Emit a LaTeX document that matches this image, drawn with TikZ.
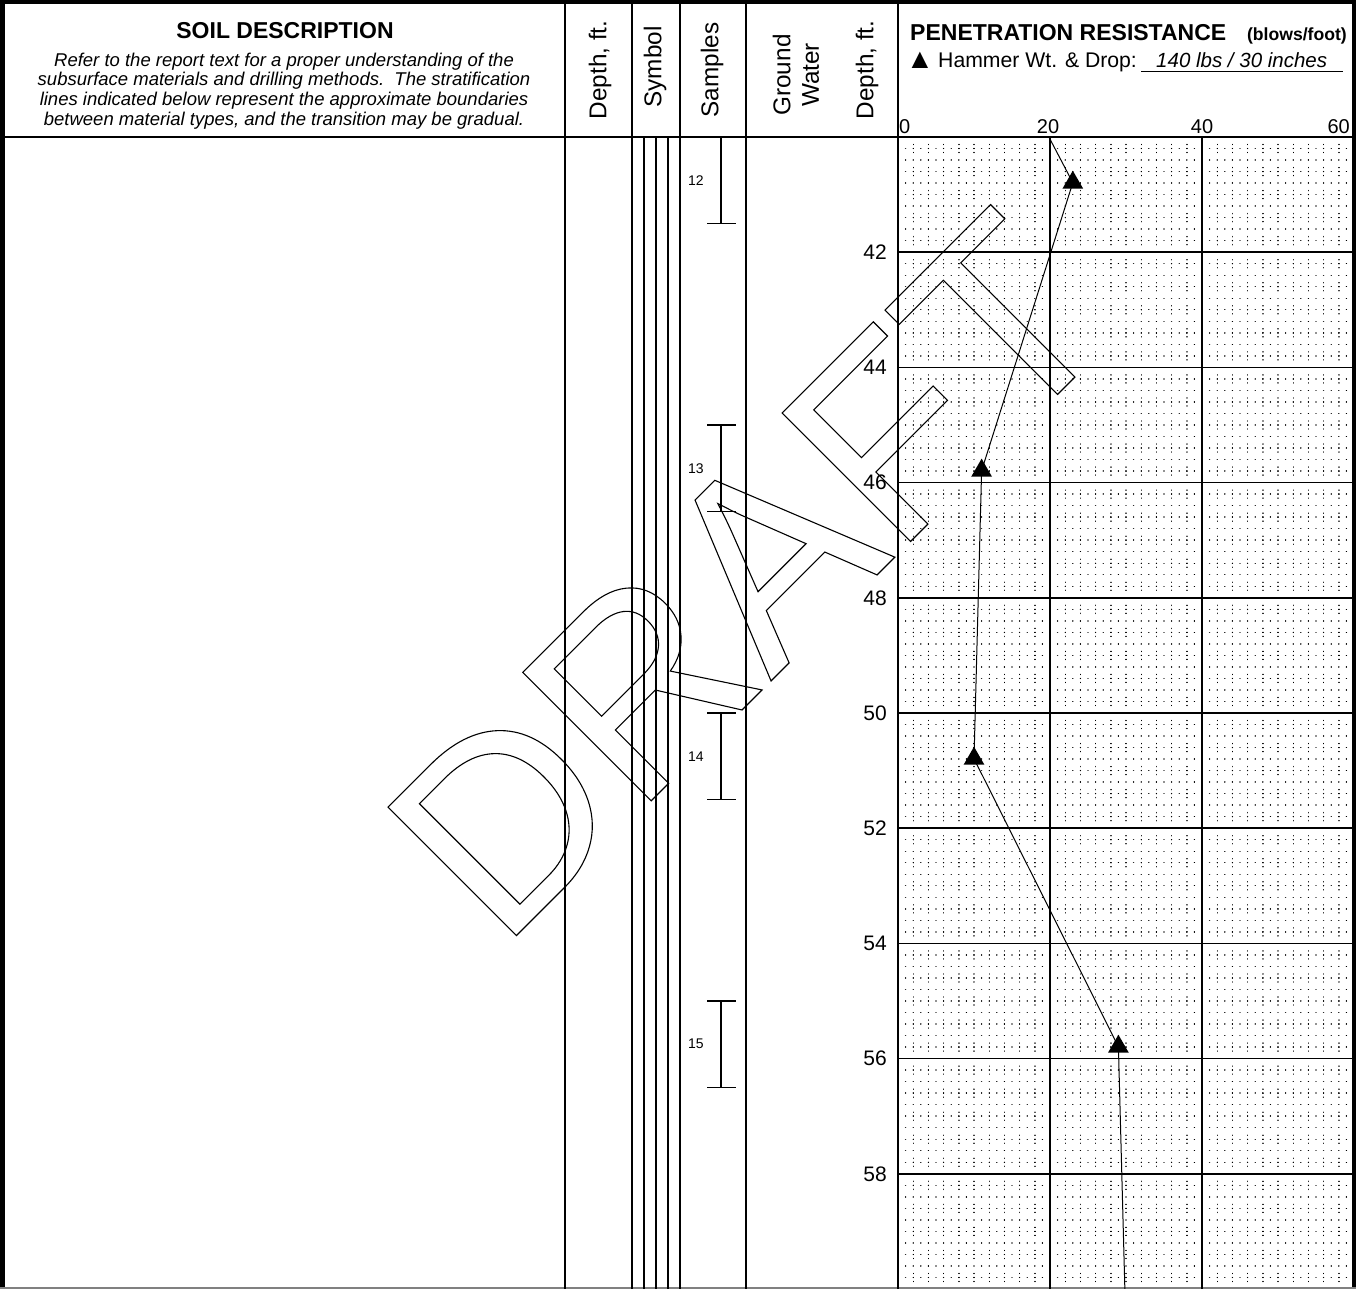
\documentclass[tikz,border=0pt]{standalone}
\usepackage{fontspec}
\setmainfont{Liberation Sans}
\usetikzlibrary{shapes.geometric}

% hollow letters for the watermark
\newcommand{\hollowtext}[1]{\special{pdf:literal direct 1 Tr 1.1 w}#1\special{pdf:literal direct 0 Tr}}

\begin{document}
\begin{tikzpicture}[x=1pt,y=-1pt,line join=miter,
rule/.style={line width=1.5pt},
head rule/.style={line width=2.2pt},
frame rule/.style={line width=4.5pt},
col head/.style={rotate=90,inner sep=0pt,align=center,font=\fontsize{24.3}{28.5}\selectfont},
depth lab/.style={anchor=east,inner sep=0pt,font=\fontsize{21}{21}\selectfont},
blow lab/.style={anchor=base,inner sep=0pt,font=\fontsize{20}{20}\selectfont},
sample lab/.style={anchor=west,inner sep=0pt,font=\fontsize{14}{14}\selectfont},
sample rule/.style={line width=1.3pt},
dot row/.style={line width=1.4pt,line cap=round,dash pattern=on 0.01pt off 7.59pt},
dot col/.style={line width=1.4pt,line cap=round,dash pattern=on 0.01pt off 3.99pt on 0.01pt off 3.99pt on 0.01pt off 15.03pt,dash phase=15.52pt},
blow mark/.style={regular polygon,regular polygon sides=3,fill=black,inner sep=0pt,minimum size=24pt,yshift=-2.5pt},
blow line/.style={line width=1pt},
draft mark/.style={rotate=45,anchor=base west,inner sep=0pt,font=\fontsize{264}{264}\selectfont\addfontfeatures{Kerning=Off}}]
\useasboundingbox (0,0) rectangle (1356,1289);

% frame and columns
\draw[frame rule] (2.25,1289) -- (2.25,2.25) -- (1353.75,2.25) -- (1353.75,1289);
\draw[gray,line width=1.5pt] (0,1288.2) -- (1356,1288.2);
\draw[head rule] (0,137) -- (1356,137);
\foreach \x in {565,632,680,746,898} \draw[rule] (\x,0) -- (\x,1289);
\foreach \x in {644,656,668} \draw[rule] (\x,137) -- (\x,1289);

% column headings
\node[anchor=base,inner sep=0pt,font=\bfseries\fontsize{23}{23}\selectfont] (soil head) at (285,39) {SOIL DESCRIPTION};
\node[align=center,inner sep=0pt,font=\itshape\fontsize{18.5}{19.8}\selectfont] (soil note) at (284,91)
{Refer to the report text for a proper understanding of the\\
subsurface materials and drilling methods.\ \ The stratification\\
lines indicated below represent the approximate boundaries\\
between material types, and the transition may be gradual.};
\node[col head] (depth head) at (600,70) {Depth, ft.};
\node[col head] (symbol head) at (655,67) {Symbol};
\node[col head] (samples head) at (712,70) {Samples};
\node[col head] (water head) at (796,75) {Ground\\Water};
\node[col head] (depth head b) at (867,70) {Depth, ft.};
\node[anchor=base west,inner sep=0pt,font=\bfseries\fontsize{23}{23}\selectfont] (pen head) at (910,41) {PENETRATION RESISTANCE};
\node[anchor=base east,inner sep=0pt,font=\bfseries\fontsize{17.6}{17.6}\selectfont] (pen unit) at (1347,41) {(blows/foot)};
\node[anchor=base west,inner sep=0pt,font=\fontsize{28}{28}\selectfont] (hammer mark) at (906,68.5) {▲};
\node[anchor=base west,inner sep=0pt,font=\fontsize{21.2}{21.2}\selectfont] (hammer) at (938,68) {Hammer Wt. \& Drop:};
\node[anchor=base west,inner sep=0pt,font=\itshape\fontsize{20.5}{20.5}\selectfont] (hammer value) at (1156,68) {140 lbs / 30 inches};
\draw[line width=1.2pt] ([xshift=-15pt,yshift=-3pt]hammer value.south west) -- ([xshift=16pt,yshift=-3pt]hammer value.south east);
\node[blow lab,anchor=base west] (b0) at (899,134) {0};
\node[blow lab] (b20) at (1048,134) {20};
\node[blow lab] (b40) at (1202,134) {40};
\node[blow lab,anchor=base east] (b60) at (1350,134) {60};

% samples
\begin{scope}[shift={(0,137)},y=-57.6pt]
\foreach \n/\t in {12/0,13/5,14/10,15/15} {
  \draw[sample rule] (721,\t) -- (721,\t+1.5);
  \draw[sample rule] (707,\t) -- (736,\t);
  \draw[sample rule] (707,\t+1.5) -- (736,\t+1.5);
  \node[sample lab] (s\n) at (688,\t+0.75) {\n};
}
\end{scope}

% penetration chart, blows across, depth below 40 ft down
\begin{scope}[shift={(898,137)},x=7.6pt,y=-57.6pt]
\foreach \d in {0.2,0.4,...,19.9} \draw[dot row] (0,\d) -- (60,\d);
\foreach \b in {2,4,...,58} \draw[dot col] (\b,0) -- (\b,20);
\foreach \d in {2,4,...,18} \draw[rule] (0,\d) -- (60,\d);
\foreach \b in {20,40} \draw[rule] (\b,0) -- (\b,20);
\foreach \d in {42,44,...,58} \node[depth lab] (d\d) at (-1.45,\d-40) {\d};

\coordinate (p11) at (3,-4.25);
\node[blow mark] (p12) at (23,0.75) {};
\node[blow mark] (p13) at (11,5.75) {};
\node[blow mark] (p14) at (10,10.75) {};
\node[blow mark] (p15) at (29,15.75) {};
\coordinate (p16) at (30,20.75);
\begin{scope}
\clip (0,0) rectangle (60,20);
\draw[blow line] (p11) -- (p12.center) -- (p13.center) -- (p14.center) -- (p15.center) -- (p16);
\end{scope}
\end{scope}

% watermark
\node[draft mark] (draft) at (501,951) {\hollowtext{DRAFT}};
\end{tikzpicture}
\end{document}
